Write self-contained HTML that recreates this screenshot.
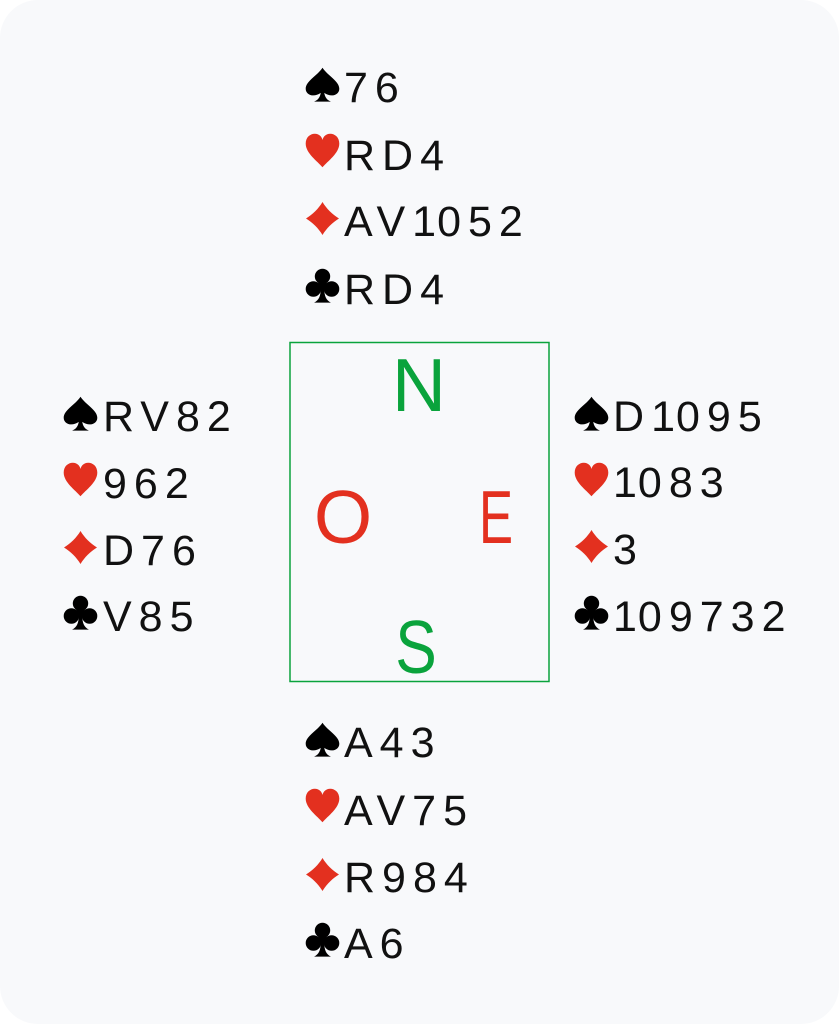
<!DOCTYPE html>
<html><head><meta charset="utf-8"><style>
html,body{margin:0;padding:0;background:#fff;width:839px;height:1024px;overflow:hidden}
svg{display:block}
.t{font-family:"Liberation Sans",sans-serif;font-size:43px;letter-spacing:7px;fill:#111}
.c{font-family:"Liberation Sans",sans-serif;font-size:75px;text-anchor:middle}
</style></head><body>
<svg width="839" height="1024" viewBox="0 0 839 1024" xmlns="http://www.w3.org/2000/svg">
<defs>
<symbol id="sp" viewBox="0 0 100 100"><path d="M50 2 C35 25 2 40 2 62 C2 80 25 88 45 74 C43 86 38 94 26 99 L74 99 C62 94 57 86 55 74 C75 88 98 80 98 62 C98 40 65 25 50 2 Z" fill="#000"/></symbol>
<symbol id="he" viewBox="0 0 100 100"><path d="M50 98 C35 80 2 58 2 30 C2 12 15 2 28 2 C40 2 48 10 50 20 C52 10 60 2 72 2 C85 2 98 12 98 30 C98 58 65 80 50 98 Z" fill="#e3301f"/></symbol>
<symbol id="di" viewBox="0 0 100 100"><path d="M50 0 C62 20 80 38 100 50 C80 62 62 80 50 100 C38 80 20 62 0 50 C20 38 38 20 50 0 Z" fill="#e3301f"/></symbol>
<symbol id="cl" viewBox="0 0 100 100"><g fill="#000"><circle cx="50" cy="24" r="22"/><circle cx="24" cy="60" r="22"/><circle cx="76" cy="60" r="22"/><rect x="38" y="35" width="24" height="30"/><path d="M45 58 C45 80 40 92 26 99 L74 99 C60 92 55 80 55 58 Z"/></g></symbol>
</defs>
<rect x="0" y="0" width="839" height="1024" rx="38" ry="38" fill="#f8f9fb"/>

<!-- North -->
<use href="#sp" x="305" y="67" width="35" height="35"/>
<text class="t" x="344" y="102">76</text>
<use href="#he" x="305" y="133" width="35" height="35"/>
<text class="t" x="344" y="170">RD4</text>
<use href="#di" x="306" y="202" width="33" height="33"/>
<text class="t" x="344" y="236">AV<tspan style="letter-spacing:1px">1</tspan>052</text>
<use href="#cl" x="305" y="268" width="35" height="35"/>
<text class="t" x="344" y="304">RD4</text>

<!-- West -->
<use href="#sp" x="63" y="396" width="35" height="35"/>
<text class="t" x="103" y="431">RV82</text>
<use href="#he" x="63" y="462" width="35" height="35"/>
<text class="t" x="103" y="498">962</text>
<use href="#di" x="64" y="531" width="33" height="33"/>
<text class="t" x="103" y="565">D76</text>
<use href="#cl" x="63" y="595" width="35" height="35"/>
<text class="t" x="103" y="631">V85</text>

<!-- East -->
<use href="#sp" x="574" y="396" width="35" height="35"/>
<text class="t" x="613" y="431">D<tspan style="letter-spacing:1px">1</tspan>095</text>
<use href="#he" x="574" y="462" width="35" height="35"/>
<text class="t" x="613" y="497"><tspan style="letter-spacing:1px">1</tspan>083</text>
<use href="#di" x="575" y="530" width="33" height="33"/>
<text class="t" x="613" y="564">3</text>
<use href="#cl" x="574" y="595" width="35" height="35"/>
<text class="t" x="613" y="631"><tspan style="letter-spacing:1px">1</tspan>09732</text>

<!-- South -->
<use href="#sp" x="305" y="722" width="35" height="35"/>
<text class="t" x="344" y="757">A43</text>
<use href="#he" x="305" y="788" width="35" height="35"/>
<text class="t" x="344" y="825">AV75</text>
<use href="#di" x="306" y="858" width="33" height="33"/>
<text class="t" x="344" y="892">R984</text>
<use href="#cl" x="305" y="922" width="35" height="35"/>
<text class="t" x="344" y="958">A6</text>

<!-- Compass box -->
<rect x="290" y="342.5" width="259" height="339" fill="none" stroke="#0aa33c" stroke-width="1.5"/>
<text class="c" x="419" y="411" fill="#0aa33c">N</text>
<text class="c" x="343" y="543" fill="#e3301f">O</text>
<text class="c" transform="translate(496,0) scale(0.68,1)" x="0" y="543" fill="#e3301f">E</text>
<text class="c" transform="translate(416,0) scale(0.83,1)" x="0" y="673" fill="#0aa33c">S</text>
</svg>
</body></html>
